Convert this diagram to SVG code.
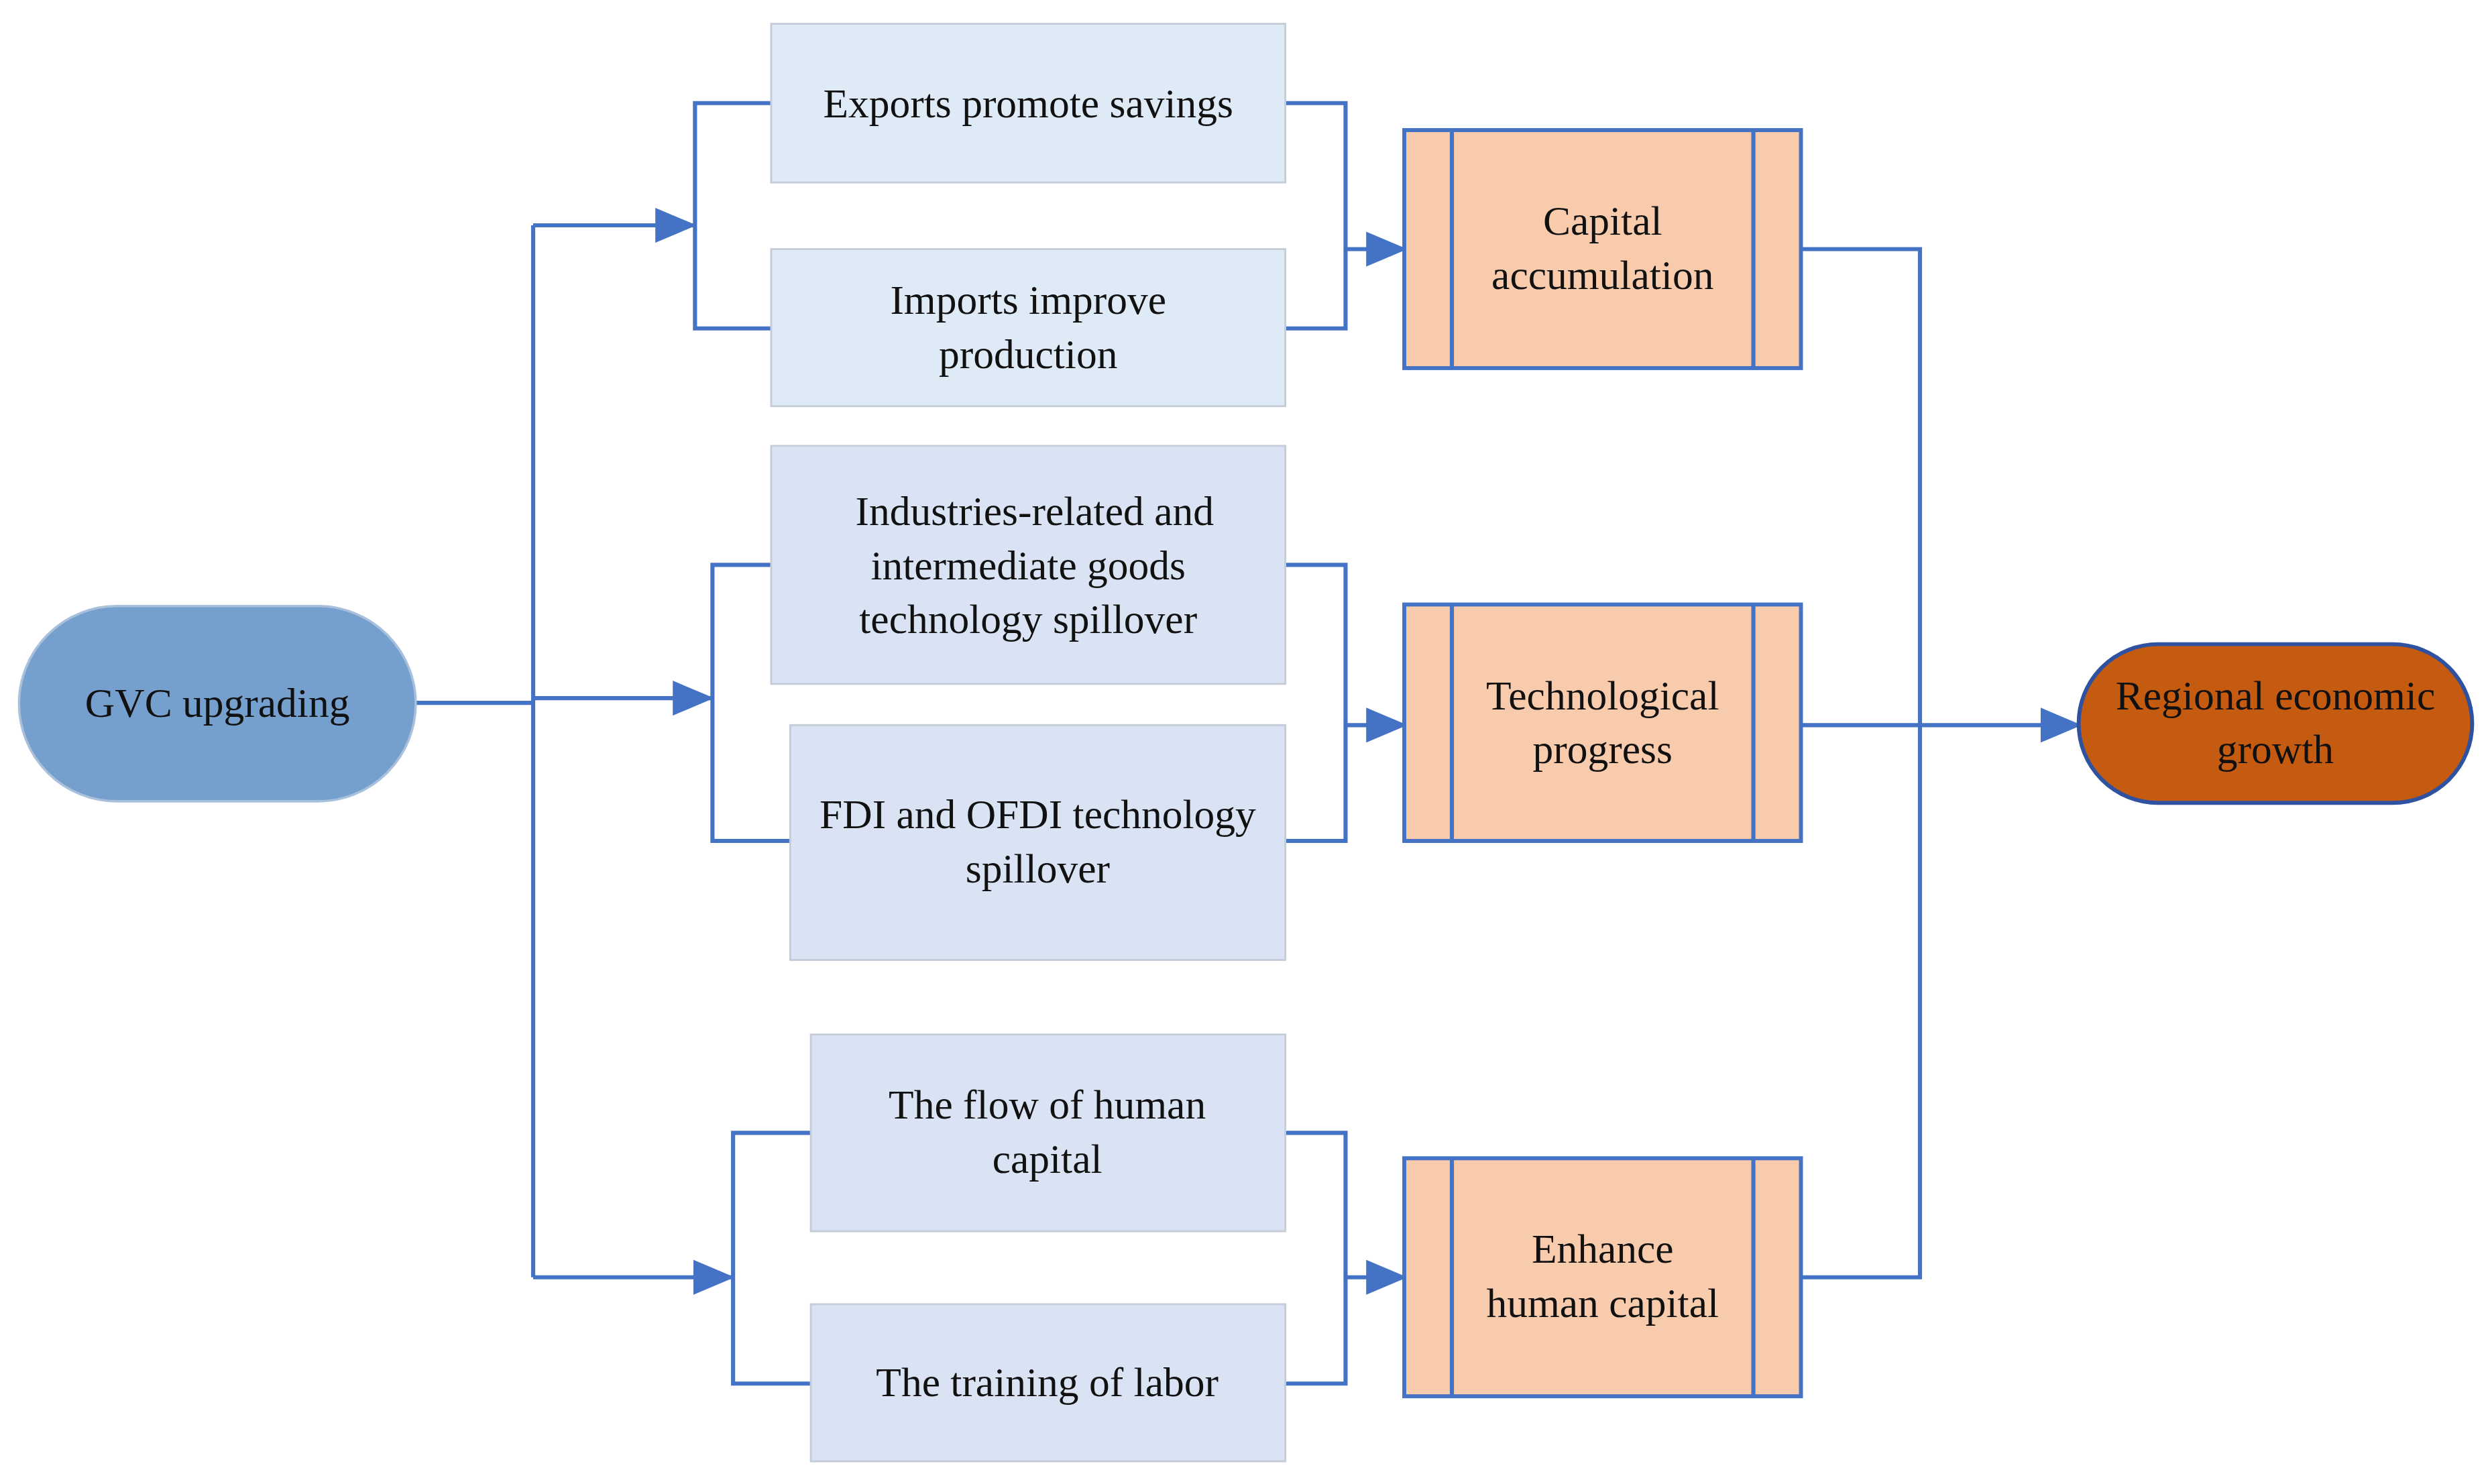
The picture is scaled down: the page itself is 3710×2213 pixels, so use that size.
<svg xmlns="http://www.w3.org/2000/svg" width="3710" height="2213" viewBox="0 0 3710 2213">
<style>
.t{font-family:"Liberation Serif","Times New Roman",serif;font-size:26px;fill:#111;text-anchor:middle}
.b1{fill:#deeaf6;stroke:#c4ccd8;stroke-width:1.2}
.b2{fill:#dae3f3;stroke:#c4ccd8;stroke-width:1.2}
.o{fill:#f8cbad;stroke:#4472c4;stroke-width:2.5}
.c{fill:none;stroke:#4472c4;stroke-width:2.6}
</style>
<defs>
<marker id="a" markerUnits="userSpaceOnUse" markerWidth="26" markerHeight="22" refX="24" refY="11" orient="auto" viewBox="0 0 26 22"><path d="M0,0 L26,11 L0,22 Z" fill="#4472c4"/></marker>
</defs>
<rect width="3710" height="2213" fill="#fff"/>
<g transform="scale(2.3661)">
<g id="connectors">
<path class="c" d="M262,443 H336 M336,142 V805"/>
<path class="c" d="M336,142 H437" marker-end="url(#a)"/>
<path class="c" d="M486,65 H438 V207 H486"/>
<path class="c" d="M336,440 H448" marker-end="url(#a)"/>
<path class="c" d="M486,356 H449 V530 H498"/>
<path class="c" d="M336,805 H461" marker-end="url(#a)"/>
<path class="c" d="M511,714 H462 V872 H511"/>
<path class="c" d="M810,65 H848 V207 H810"/>
<path class="c" d="M848,157 H885" marker-end="url(#a)"/>
<path class="c" d="M810,356 H848 V530 H810"/>
<path class="c" d="M848,457 H885" marker-end="url(#a)"/>
<path class="c" d="M810,714 H848 V872 H810"/>
<path class="c" d="M848,805 H885" marker-end="url(#a)"/>
<path class="c" d="M1135,157 H1210 V805 H1135"/>
<path class="c" d="M1135,457 H1310" marker-end="url(#a)"/>
</g>
<g id="gvc"><rect x="12" y="382" width="250" height="123" rx="61.5" fill="#759fcd" stroke="#a9c0dc" stroke-width="1.5"/><text class="t" x="137" y="452">GVC upgrading</text></g>
<g id="n1"><rect class="b1" x="486" y="15" width="324" height="100"/><text class="t" x="648" y="74">Exports promote savings</text></g>
<g id="n2"><rect class="b1" x="486" y="157" width="324" height="99"/><text class="t" x="648" y="198">Imports improve</text><text class="t" x="648" y="232">production</text></g>
<g id="n3"><rect class="b2" x="486" y="281" width="324" height="150"/><text class="t" x="652" y="331">Industries-related and</text><text class="t" x="648" y="365">intermediate goods</text><text class="t" x="648" y="399">technology spillover</text></g>
<g id="n4"><rect class="b2" x="498" y="457" width="312" height="148"/><text class="t" x="654" y="522">FDI and OFDI technology</text><text class="t" x="654" y="556">spillover</text></g>
<g id="n5"><rect class="b2" x="511" y="652" width="299" height="124"/><text class="t" x="660" y="705">The flow of human</text><text class="t" x="660" y="739">capital</text></g>
<g id="n6"><rect class="b2" x="511" y="822" width="299" height="99"/><text class="t" x="660" y="880">The training of labor</text></g>
<g id="cap"><rect class="o" x="885" y="82" width="250" height="150"/><path class="c" d="M915,82 V232 M1105,82 V232"/><text class="t" x="1010" y="148">Capital</text><text class="t" x="1010" y="182">accumulation</text></g>
<g id="tech"><rect class="o" x="885" y="381" width="250" height="149"/><path class="c" d="M915,381 V530 M1105,381 V530"/><text class="t" x="1010" y="447">Technological</text><text class="t" x="1010" y="481">progress</text></g>
<g id="hum"><rect class="o" x="885" y="730" width="250" height="150"/><path class="c" d="M915,730 V880 M1105,730 V880"/><text class="t" x="1010" y="796">Enhance</text><text class="t" x="1010" y="830">human capital</text></g>
<g id="reg"><rect x="1310" y="406" width="248" height="100" rx="50" fill="#c55a11" stroke="#2f52a0" stroke-width="2.5"/><text class="t" x="1434" y="447">Regional economic</text><text class="t" x="1434" y="481">growth</text></g>
</g>
</svg>
